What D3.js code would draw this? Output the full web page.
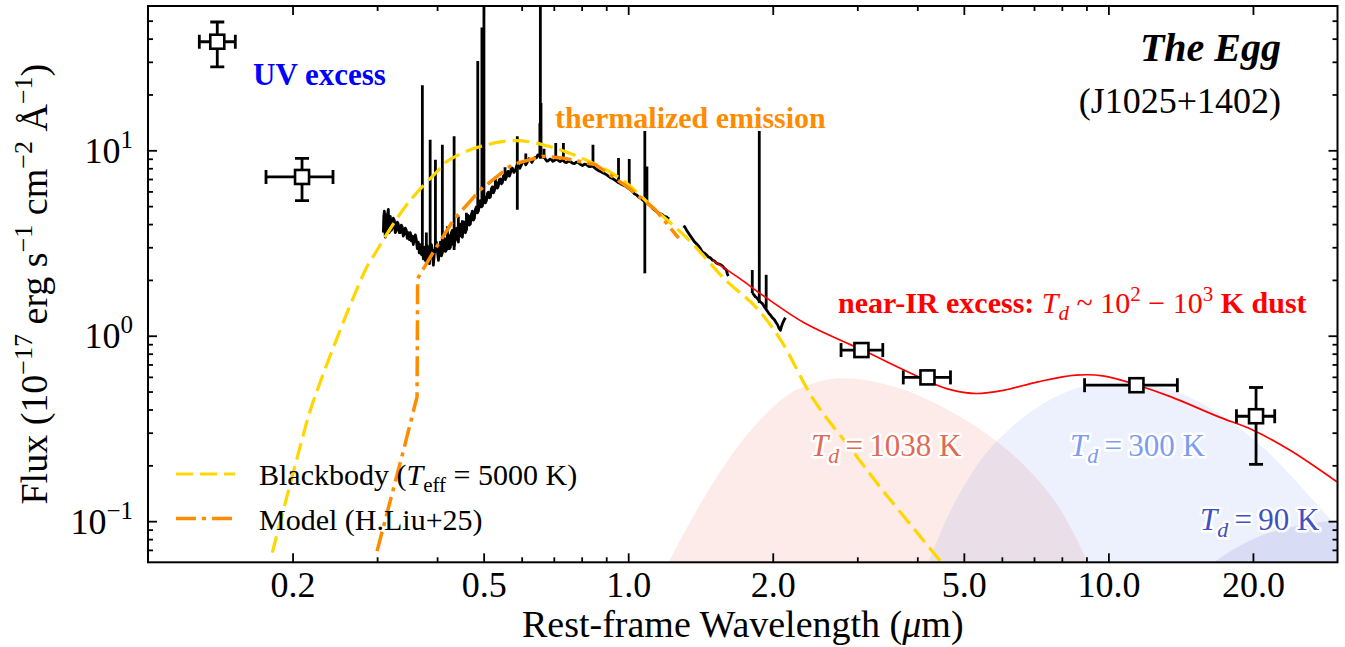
<!DOCTYPE html>
<html>
<head>
<meta charset="utf-8">
<script src="https://cdn.jsdelivr.net/npm/d3@7"></script>
<style>
  html, body { margin: 0; padding: 0; background: #fff; }
  svg { display: block; font-family: "Liberation Serif", "Times New Roman", serif; }
</style>
</head>
<body>
<svg id="chart" width="1345" height="647"></svg>
<script>
// ---- axis ranges and ticks ----
const xDomain = [0.1, 30];
const yDomain = [0.06, 60];
const xMajor = [0.2, 0.5, 1, 2, 5, 10, 20];
const xMajorLabels = ["0.2", "0.5", "1.0", "2.0", "5.0", "10.0", "20.0"];
const xMinor = [0.3, 0.4, 0.6, 0.7, 0.8, 0.9, 3, 4, 6, 7, 8, 9];
const yMajor = [0.1, 1, 10];
const yMajorExp = ["\u22121", "0", "1"];
const yMinor = [0.07, 0.08, 0.09, 0.2, 0.3, 0.4, 0.5, 0.6, 0.7, 0.8, 0.9,
                2, 3, 4, 5, 6, 7, 8, 9, 20, 30, 40, 50];

// ---- photometry (rest-frame, um ; 1e-17 erg/s/cm2/A) ----
const photWave   = [0.1394, 0.2093, 3.06, 4.20, 11.44, 20.3];
const photFlux   = [38.5, 7.18, 0.837, 0.596, 0.541, 0.368];
const photWaveLo = [0.1279, 0.1761, 2.775, 3.74, 8.92, 18.48];
const photWaveHi = [0.1520, 0.2428, 3.39, 4.69, 13.92, 22.2];
const photFluxLo = [28.2, 5.35, 0.837, 0.596, 0.541, 0.2025];
const photFluxHi = [49.2, 9.05, 0.837, 0.596, 0.541, 0.526];

// ---- spectrum continuum (null = gap) ----
const specWave = [
  0.3091, 0.3098, 0.3106, 0.3113, 0.3121, 0.3128, 0.3136, 0.3143, 0.3151, 0.3158,
  0.3166, 0.3173, 0.3181, 0.3188, 0.3196, 0.3211, 0.3227, 0.3242, 0.3258, 0.3273,
  0.3289, 0.3305, 0.3321, 0.3337, 0.3353, 0.3369, 0.3385, 0.3401, 0.3418, 0.3434,
  0.3451, 0.3467, 0.3484, 0.3501, 0.3518, 0.3535, 0.3552, 0.3569, 0.3586, 0.3603,
  0.3620, 0.3638, 0.3655, 0.3673, 0.3692, 0.3709, 0.3727, 0.3745, 0.3763, 0.3781,
  0.3799, 0.3818, 0.3836, 0.3855, 0.3873, 0.3891, 0.3910, 0.3929, 0.3948, 0.3967,
  0.3986, 0.4005, 0.4025, 0.4044, 0.4063, 0.4083, 0.4102, 0.4122, 0.4142, 0.4162,
  0.4182, 0.4202, 0.4222, 0.4243, 0.4263, 0.4284, 0.4304, 0.4325, 0.4345, 0.4366,
  0.4387, 0.4408, 0.4429, 0.4451, 0.4472, 0.4494, 0.4515, 0.4537, 0.4559, 0.4581,
  0.4603, 0.4625, 0.4647, 0.4669, 0.4691, 0.4714, 0.4737, 0.4760, 0.4782, 0.4805,
  0.4828, 0.4852, 0.4875, 0.4898, 0.4922, 0.4945, 0.4969, 0.4993, 0.5017, 0.5041,
  0.5066, 0.5090, 0.5115, 0.5139, 0.5164, 0.5189, 0.5213, 0.5238, 0.5264, 0.5289,
  0.5314, 0.5340, 0.5366, 0.5391, 0.5417, 0.5444, 0.5470, 0.5496, 0.5522, 0.5549,
  0.5575, 0.5602, 0.5629, 0.5656, 0.5683, 0.5710, 0.5738, 0.5780, 0.5821, 0.5863,
  0.5905, 0.5948, 0.5991, 0.6034, 0.6077, 0.6121, 0.6165, 0.6210, 0.6256, 0.6301,
  0.6346, 0.6392, 0.6438, 0.6484, 0.6531, 0.6578, 0.6626, 0.6674, 0.6723, 0.6771,
  0.6820, 0.6869, 0.6918, 0.6968, 0.7019, 0.7069, 0.7120, 0.7172, 0.7225, 0.7277,
  0.7329, 0.7382, 0.7435, 0.7508, 0.7582, 0.7655, 0.7728, 0.7803, 0.7878, 0.7954,
  0.8030, 0.8107, 0.8185, 0.8264, 0.8344, 0.8424, 0.8505, 0.8587, 0.8669, 0.8752,
  0.8836, 0.8921, 0.9007, 0.9094, 0.9182, 0.9270, 0.9358, 0.9448, 0.9539, 0.9631,
  0.9724, 0.9818, 0.9912, 1.0008, 1.0106, 1.0203, 1.0300, 1.0400, 1.0500, 1.0601,
  1.0702, 1.0805, 1.0909, 1.1014, 1.112, 1.1227, 1.1335, 1.1444, 1.1553, 1.1665,
  1.1777, 1.1891, 1.2005, 1.2091, 1.2178, null,
  1.3033, 1.3127, 1.3222, 1.3350, 1.3479, 1.3609, 1.3740, 1.3872, 1.4006, 1.4141,
  1.4276, 1.4413, 1.4552, 1.4692, 1.4834, 1.4977, 1.5120, 1.5266, 1.5413, 1.5561,
  1.5710, 1.5862, 1.6015, 1.6091, 1.6168, null,
  1.8146, 1.8277, 1.8408, 1.8541, 1.8675, 1.8855, 1.9036, 1.9220, 1.9404, 1.9592,
  1.9780, 1.9971, 2.0163, 2.0309, 2.0455, 2.0602, 2.0750, 2.0850, 2.0950, 2.1100, 2.1253
];
const specFlux = [
  3.60, 4.40, 4.70, 3.70, 3.40, 4.30, 4.50, 3.60, 3.80, 4.60,
  4.80, 3.70, 3.60, 4.20, 4.40, 3.70, 3.80, 4.30, 4.20, 3.60,
  3.70, 4.10, 4.00, 3.60, 3.60, 3.95, 3.85, 3.45, 3.55, 3.80,
  3.70, 3.35, 3.60, 3.30, 3.60, 3.25, 3.45, 3.10, 3.35, 3.50,
  3.30, 2.95, 3.20, 2.80, 3.10, 2.75, 3.00, 2.60, 3.00, 2.55,
  2.50, 3.05, 2.80, 2.45, 2.75, 3.10, 2.90, 2.40, 2.80, 2.95,
  3.20, 2.90, 2.55, 2.90, 3.20, 2.70, 2.80, 3.30, 3.35, 2.85,
  2.90, 3.40, 3.50, 2.95, 3.00, 3.60, 3.70, 3.10, 3.05, 3.70,
  3.80, 3.30, 3.20, 3.85, 4.00, 3.45, 3.40, 4.00, 4.10, 3.60,
  3.75, 4.25, 4.45, 3.95, 4.00, 4.50, 4.70, 4.20, 4.30, 4.80,
  4.95, 4.60, 4.70, 5.15, 5.35, 4.95, 5.00, 5.45, 5.60, 5.20,
  5.35, 5.85, 5.95, 5.55, 5.60, 6.20, 6.35, 5.90, 6.05, 6.55,
  6.70, 6.25, 6.45, 6.95, 7.00, 6.60, 6.70, 7.25, 7.35, 6.95,
  7.15, 7.65, 7.70, 7.25, 7.50, 8.00, 8.00, 7.60, 7.80, 8.30,
  8.30, 8.00, 8.35, 8.70, 8.70, 8.35, 8.65, 9.00, 8.90, 8.60,
  8.90, 9.15, 9.10, 9.45, 9.30, 9.60, 9.20, 9.30, 8.95, 8.75,
  8.80, 8.95, 8.91, 8.72, 8.80, 8.95, 8.91, 8.75, 8.69, 8.85,
  8.80, 8.62, 8.58, 8.75, 8.69, 8.52, 8.47, 8.64, 8.58, 8.40,
  8.26, 8.42, 8.37, 8.20, 8.16, 8.25, 8.06, 7.90, 7.77, 7.70,
  7.57, 7.50, 7.39, 7.25, 7.12, 7.05, 6.94, 6.82, 6.69, 6.62,
  6.52, 6.45, 6.36, 6.25, 6.13, 6.00, 5.83, 5.75, 5.61, 5.52,
  5.41, 5.30, 5.21, 5.12, 5.02, 4.88, 4.78, 4.70, 4.60, 4.55,
  4.49, 4.40, 4.38, 4.30, 4.27, null,
  3.91, 3.85, 3.72, 3.58, 3.45, 3.33, 3.21, 3.13, 3.05, 2.95,
  2.83, 2.79, 2.73, 2.66, 2.63, 2.56, 2.53, 2.47, 2.44, 2.42,
  2.38, 2.31, 2.26, 2.15, 2.10, null,
  1.70, 1.66, 1.62, 1.60, 1.56, 1.52, 1.49, 1.43, 1.38, 1.33,
  1.29, 1.25, 1.22, 1.18, 1.15, 1.10, 1.07, 1.12, 1.16, 1.21, 1.25
];

// ---- emission / absorption features in the spectrum ----
const lineWave = [0.3727, 0.3799, 0.3869, 0.3968, 0.4102, 0.4202, 0.4340, 0.4429, 0.4515, 0.4603,
                  0.4861, 0.4959, 0.5007, 0.5290, 0.5540, 0.5876, 0.6120, 0.6548, 0.6563, 0.6583,
                  0.6680, 0.7065, 0.7330, 0.8446, 0.9546, 1.005, 1.083, 1.094, 1.813, 1.875, 1.938];
const lineLow  = [2.69, 2.6, 2.69, 2.80, 2.83, 2.9, 2.90, 3.3, 3.5, 3.7,
                  4.66, 5.0, 5.4, 6.2, 7.2, 4.78, 8.6, 9.2, 9.0, 9.2,
                  9.0, 8.8, 8.8, 8.1, 6.7, 6.1, 2.17, 5.2, 1.70, 1.50, 1.40];
const lineHigh = [22.4, 3.6, 11.4, 8.9, 10.7, 3.9, 11.9, 4.4, 4.2, 4.6,
                  30.3, 46.0, 90, 7.2, 8.1, 11.9, 9.6, 14, 90, 18,
                  10.2, 10.96, 10.96, 10.7, 9.1, 8.98, 12.7, 8.19, 2.26, 12.7, 2.13];

// ---- blackbody, T_eff = 5000 K ----
const bbWave = [0.1815, 0.2069, 0.2178, 0.2285, 0.2435, 0.2638, 0.2859, 0.2974, 0.3121, 0.3490,
                0.4097, 0.4196, 0.4805, 0.5821, 0.6828, 0.8274, 0.9712, 1.139, 1.337,
                1.594, 1.841, 2.077, 2.437, 2.925, 3.432, 4.120, 4.49];
const bbFlux = [0.0677, 0.2462, 0.3967, 0.5641, 0.872, 1.465, 2.36, 2.79, 3.43, 5.25,
                8.19, 8.72, 10.3, 11.28, 10.51, 8.72, 6.94, 4.78, 3.29,
                2.00, 1.435, 0.95, 0.449, 0.241, 0.1406, 0.0787, 0.060];

// ---- model (H.Liu+25) ----
const modelWave = [0.2999, 0.3419, 0.3574, 0.3633, 0.3640, 0.3643, 0.3661, 0.3934, 0.4330, 0.4922,
                   0.5730, 0.6616, 0.7286, 0.8545, 1.0024, 1.139, 1.274];
const modelFlux = [0.0689, 0.2512, 0.3967, 0.468, 1.2, 2.02, 2.08, 2.84, 4.22, 6.13,
                   8.37, 9.28, 9.10, 8.37, 6.27, 4.78, 3.36];

// ---- total model with warm dust ----
const dustTotWave = [1.50, 1.70, 1.94, 2.33, 2.86, 3.13, 3.76, 4.31, 4.73, 5.30,
                     6.08, 7.13, 8.55, 9.81, 11.51, 13.51, 16.98, 19.93, 23.9, 29.9];
const dustTotFlux = [2.55, 2.05, 1.60, 1.17, 0.910, 0.819, 0.652, 0.553, 0.509, 0.488,
                     0.509, 0.564, 0.613, 0.606, 0.541, 0.468, 0.365, 0.311, 0.241, 0.163];

// ---- dust components ----
const d1038Wave = [1.214, 1.376, 1.579, 1.852, 2.174, 2.49, 2.73, 3.13, 3.76, 4.51, 5.42, 6.51, 7.81, 9.06];
const d1038Flux = [0.06, 0.1096, 0.196, 0.336, 0.488, 0.564, 0.589, 0.576, 0.509, 0.413, 0.311, 0.213, 0.124, 0.06];
const d300Wave = [4.22, 4.73, 5.42, 6.08, 7.13, 8.55, 9.81, 11.25, 13.51, 16.98, 21.3, 25.6, 30];
const d300Flux = [0.06, 0.119, 0.213, 0.297, 0.413, 0.519, 0.553, 0.557, 0.509, 0.381, 0.241, 0.1465, 0.0928];
const d90Wave = [16.6, 18.5, 21.3, 25.6, 30];
const d90Flux = [0.06, 0.072, 0.0855, 0.096, 0.101];

// ---- drawing ----
const svg = d3.select("#chart");
const m = { left: 148, right: 1337.5, top: 6, bottom: 562.3 };
const x = d3.scaleLog().domain(xDomain).range([m.left, m.right]);
const y = d3.scaleLog().domain(yDomain).range([m.bottom, m.top]);

svg.append("rect").attr("width", 1345).attr("height", 647).attr("fill", "#fff");

svg.append("defs").append("clipPath").attr("id", "plotclip")
  .append("rect").attr("x", m.left).attr("y", m.top)
  .attr("width", m.right - m.left).attr("height", m.bottom - m.top);

const plot = svg.append("g").attr("clip-path", "url(#plotclip)");

const zip = (a, b) => a.map((v, i) => [v, b[i]]);

const hump = d3.area()
  .x(d => x(d[0])).y0(m.bottom).y1(d => y(d[1]))
  .curve(d3.curveCatmullRom.alpha(0.5));

plot.append("path").datum(zip(d1038Wave, d1038Flux))
  .attr("d", hump).attr("fill", "#e8735a").attr("fill-opacity", 0.14);
plot.append("path").datum(zip(d300Wave, d300Flux))
  .attr("d", hump).attr("fill", "#6f8ff0").attr("fill-opacity", 0.12);
plot.append("path").datum(zip(d90Wave, d90Flux))
  .attr("d", hump).attr("fill", "#3f51c0").attr("fill-opacity", 0.12);

// observed spectrum
const specLine = d3.line()
  .defined(d => d[0] !== null && d[1] !== null)
  .x(d => x(d[0])).y(d => y(d[1]));
plot.append("path").datum(zip(specWave, specFlux))
  .attr("d", specLine).attr("fill", "none")
  .attr("stroke", "#000").attr("stroke-width", 2.8).attr("stroke-linejoin", "round");
plot.selectAll("line.emis").data(lineWave).enter().append("line")
  .attr("class", "emis")
  .attr("x1", d => x(d)).attr("x2", d => x(d))
  .attr("y1", (d, i) => y(lineLow[i])).attr("y2", (d, i) => y(lineHigh[i]))
  .attr("stroke", "#000").attr("stroke-width", 2.8);

const smooth = d3.line().x(d => x(d[0])).y(d => y(d[1])).curve(d3.curveCatmullRom.alpha(0.5));
const straight = d3.line().x(d => x(d[0])).y(d => y(d[1]));

plot.append("path").datum(zip(bbWave, bbFlux))
  .attr("d", smooth).attr("fill", "none")
  .attr("stroke", "#FFD700").attr("stroke-width", 3.2).attr("stroke-dasharray", "17,7");

plot.append("path").datum(zip(modelWave, modelFlux))
  .attr("d", straight).attr("fill", "none")
  .attr("stroke", "#FF8C00").attr("stroke-width", 3.5).attr("stroke-dasharray", "20,6,4,6");

plot.append("path").datum(zip(dustTotWave, dustTotFlux))
  .attr("d", smooth).attr("fill", "none")
  .attr("stroke", "#FF0000").attr("stroke-width", 1.7);

// photometry with error bars
const eb = plot.append("g").attr("stroke", "#000").attr("stroke-width", 2.8);
const cap = 7;
photWave.forEach((w, i) => {
  const cx = x(w), cy = y(photFlux[i]);
  const xl = x(photWaveLo[i]), xr = x(photWaveHi[i]);
  eb.append("line").attr("x1", xl).attr("x2", xr).attr("y1", cy).attr("y2", cy);
  eb.append("line").attr("x1", xl).attr("x2", xl).attr("y1", cy - cap).attr("y2", cy + cap);
  eb.append("line").attr("x1", xr).attr("x2", xr).attr("y1", cy - cap).attr("y2", cy + cap);
  const yt = y(photFluxHi[i]), yb = y(photFluxLo[i]);
  if (yb - yt > 1) {
    eb.append("line").attr("x1", cx).attr("x2", cx).attr("y1", yt).attr("y2", yb);
    eb.append("line").attr("x1", cx - cap).attr("x2", cx + cap).attr("y1", yt).attr("y2", yt);
    eb.append("line").attr("x1", cx - cap).attr("x2", cx + cap).attr("y1", yb).attr("y2", yb);
  }
});
plot.selectAll("rect.pt").data(photWave).enter().append("rect")
  .attr("class", "pt")
  .attr("x", d => x(d) - 7).attr("y", (d, i) => y(photFlux[i]) - 7)
  .attr("width", 14).attr("height", 14)
  .attr("fill", "#fff").attr("stroke", "#000").attr("stroke-width", 2.6);

// ---- axes ----
function styleAxis(g) {
  g.select(".domain").remove();
  g.selectAll(".tick line").attr("stroke", "#000").attr("stroke-width", 1.8);
  g.selectAll(".tick text").attr("fill", "#000")
    .style("font-family", "'Liberation Serif', serif").style("font-size", "36px");
}
svg.append("g").attr("transform", `translate(0,${m.bottom})`)
  .call(d3.axisBottom(x).tickValues(xMajor).tickFormat((d, i) => xMajorLabels[i]).tickSize(-9).tickPadding(9))
  .call(styleAxis);
svg.append("g").attr("transform", `translate(0,${m.bottom})`)
  .call(d3.axisBottom(x).tickValues(xMinor).tickFormat("").tickSize(-5))
  .call(styleAxis);
svg.append("g").attr("transform", `translate(0,${m.top})`)
  .call(d3.axisTop(x).tickValues(xMajor).tickFormat("").tickSize(-9))
  .call(styleAxis);
svg.append("g").attr("transform", `translate(0,${m.top})`)
  .call(d3.axisTop(x).tickValues(xMinor).tickFormat("").tickSize(-5))
  .call(styleAxis);
svg.append("g").attr("transform", `translate(${m.left},0)`)
  .call(d3.axisLeft(y).tickValues(yMajor).tickFormat("").tickSize(-9))
  .call(styleAxis);
svg.append("g").attr("transform", `translate(${m.left},0)`)
  .call(d3.axisLeft(y).tickValues(yMinor).tickFormat("").tickSize(-5))
  .call(styleAxis);
svg.append("g").attr("transform", `translate(${m.right},0)`)
  .call(d3.axisRight(y).tickValues(yMajor).tickFormat("").tickSize(-9))
  .call(styleAxis);
svg.append("g").attr("transform", `translate(${m.right},0)`)
  .call(d3.axisRight(y).tickValues(yMinor).tickFormat("").tickSize(-5))
  .call(styleAxis);

// y tick labels as powers of ten
yMajor.forEach((v, i) => {
  const t = svg.append("text").attr("x", m.left - 15).attr("y", y(v) + 12.5)
    .attr("text-anchor", "end").style("font-size", "36px").attr("fill", "#000");
  t.append("tspan").text("10");
  t.append("tspan").attr("dy", -15).style("font-size", "25px").text(yMajorExp[i]);
});

svg.append("rect").attr("x", m.left).attr("y", m.top)
  .attr("width", m.right - m.left).attr("height", m.bottom - m.top)
  .attr("fill", "none").attr("stroke", "#000").attr("stroke-width", 2);

// axis titles
svg.append("text").attr("x", (m.left + m.right) / 2).attr("y", 637)
  .attr("text-anchor", "middle").style("font-size", "38px")
  .html('Rest-frame Wavelength (<tspan font-style="italic">\u03bc</tspan>m)');

const yl = svg.append("text")
  .attr("transform", `translate(47,${(m.top + m.bottom) / 2}) rotate(-90)`)
  .attr("text-anchor", "middle").style("font-size", "38px");
yl.append("tspan").text("Flux (10");
yl.append("tspan").attr("dy", -15).style("font-size", "26px").text("\u221217");
yl.append("tspan").attr("dy", 15).text(" erg s");
yl.append("tspan").attr("dy", -15).style("font-size", "26px").text("\u22121");
yl.append("tspan").attr("dy", 15).text(" cm");
yl.append("tspan").attr("dy", -15).style("font-size", "26px").text("\u22122");
yl.append("tspan").attr("dy", 15).text(" \u00c5");
yl.append("tspan").attr("dy", -15).style("font-size", "26px").text("\u22121");
yl.append("tspan").attr("dy", 15).text(")");

// ---- annotations ----
svg.append("text").attr("x", 253).attr("y", 85)
  .style("font-size", "31px").style("font-weight", "bold").attr("fill", "#0000FF")
  .text("UV excess");
svg.append("text").attr("x", 555).attr("y", 128)
  .style("font-size", "30px").style("font-weight", "bold").attr("fill", "#FF8C00")
  .text("thermalized emission");

svg.append("text").attr("x", 1281).attr("y", 61).attr("text-anchor", "end")
  .style("font-size", "40px").style("font-weight", "bold").style("font-style", "italic")
  .text("The Egg");
svg.append("text").attr("x", 1281).attr("y", 113).attr("text-anchor", "end")
  .style("font-size", "36px").text("(J1025+1402)");

const nir = svg.append("text").attr("x", 838).attr("y", 313)
  .style("font-size", "30px").attr("fill", "#FF0000");
nir.append("tspan").style("font-weight", "bold").text("near-IR excess: ");
nir.append("tspan").style("font-style", "italic").text("T");
nir.append("tspan").attr("dy", 7).style("font-style", "italic").style("font-size", "21px").text("d");
nir.append("tspan").attr("dy", -7).text(" ~ 10");
nir.append("tspan").attr("dy", -12).style("font-size", "21px").text("2");
nir.append("tspan").attr("dy", 12).text(" \u2212 10");
nir.append("tspan").attr("dy", -12).style("font-size", "21px").text("3");
nir.append("tspan").attr("dy", 12).style("font-weight", "bold").text(" K dust");

function tdLabel(xp, yp, value, color) {
  const t = svg.append("text").attr("x", xp).attr("y", yp)
    .style("font-size", "31px").attr("fill", color)
    .attr("stroke", "#fff").attr("stroke-width", 5).attr("paint-order", "stroke")
    .attr("stroke-linejoin", "round");
  t.append("tspan").style("font-style", "italic").text("T");
  t.append("tspan").attr("dy", 7).style("font-style", "italic").style("font-size", "22px").text("d");
  t.append("tspan").attr("dy", -7).text("\u2009=\u2009" + value + " K");
}
tdLabel(811, 456, "1038", "#E06A55");
tdLabel(1070, 456, "300", "#7B9CF0");
tdLabel(1200, 530, "90", "#3F51C0");

// ---- legend ----
const lg = svg.append("g");
lg.append("line").attr("x1", 176).attr("x2", 235).attr("y1", 474).attr("y2", 474)
  .attr("stroke", "#FFD700").attr("stroke-width", 3.2).attr("stroke-dasharray", "17,7");
lg.append("line").attr("x1", 176).attr("x2", 235).attr("y1", 518.5).attr("y2", 518.5)
  .attr("stroke", "#FF8C00").attr("stroke-width", 3.5).attr("stroke-dasharray", "20,6,4,6");
const l1 = lg.append("text").attr("x", 259).attr("y", 485).style("font-size", "30px");
l1.append("tspan").text("Blackbody (");
l1.append("tspan").style("font-style", "italic").text("T");
l1.append("tspan").attr("dy", 7).style("font-size", "21px").text("eff");
l1.append("tspan").attr("dy", -7).text(" = 5000 K)");
lg.append("text").attr("x", 259).attr("y", 529.5).style("font-size", "30px")
  .text("Model (H.Liu+25)");
</script>
</body>
</html>
